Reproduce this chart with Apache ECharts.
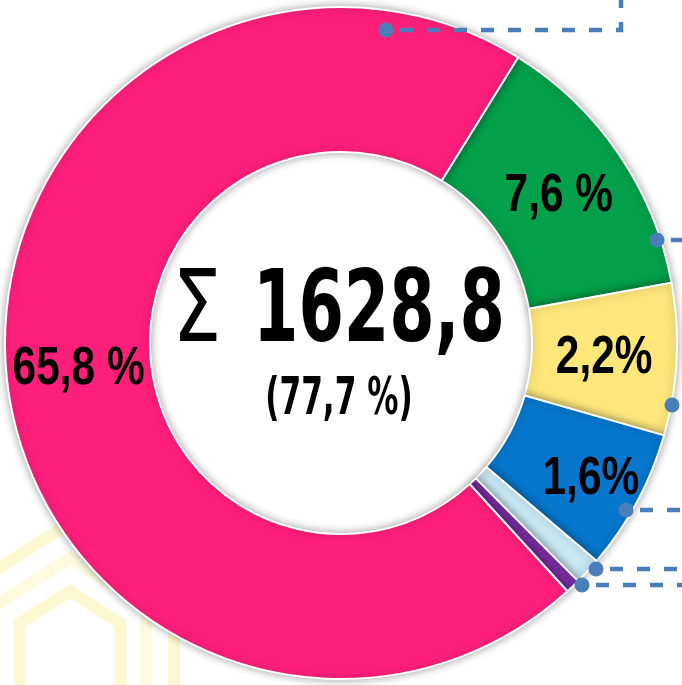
<!DOCTYPE html>
<html>
<head>
<meta charset="utf-8">
<script src="https://cdn.jsdelivr.net/npm/echarts@6/dist/echarts.min.js"></script>
<style>
  html, body { margin: 0; padding: 0; background: #fff; }
  #chart { width: 682px; height: 685px; }
</style>
</head>
<body>
<div id="chart"></div>
<script>
// slices, clockwise from the green one
const sliceNames = ['green', 'yellow', 'blue', 'lightblue', 'purple', 'pink']
// share of the ring each slice takes (percent of 360 deg)
const sliceShares = [13.3, 7.3, 6.8, 1.3, 0.7, 70.6]
const sliceLabels = ['7,6 %', '2,2%', '1,6%', '', '', '65,8 %']
const sliceColors = ['#02a04b', '#fde77b', '#0677cd', '#c8e8f5', '#7b2fa5', '#fe1f7b']

const totalText = '1628,8'
const totalShare = '(77,7 %)'

const labelFont = '"Liberation Sans", Arial, sans-serif'
const heavyFont = '"DejaVu Sans", sans-serif'
const lineColor = '#4a7ebb'

const chart = echarts.init(document.getElementById('chart'))

chart.setOption({
  animation: false,
  backgroundColor: '#fff',
  series: [
    {
      type: 'pie',
      center: [341, 343],
      radius: [191, 336],
      startAngle: 58.2,
      clockwise: true,
      z: 5,
      itemStyle: {
        borderColor: '#fff',
        borderWidth: 2,
        shadowBlur: 8,
        shadowColor: 'rgba(0,0,0,0.35)'
      },
      label: { show: false },
      labelLine: { show: false },
      emphasis: { disabled: true },
      data: sliceNames.map((name, i) => ({
        name: name,
        value: sliceShares[i],
        itemStyle: { color: sliceColors[i] }
      }))
    }
  ]
})

// narrow bold labels, placed from the pie's own layout
const pieData = chart.getModel().getSeriesByIndex(0).getData()
const radialNudge = { 2: 20 }
const graphics = []

// faint watermark behind the ring
;[[120, '#fcf8d2'], [88, '#fdfae0'], [58, '#fcf8d2']].forEach(([r, c]) => {
  const pts = []
  for (let k = 0; k < 6; k++) {
    const a = Math.PI / 6 + k * Math.PI / 3
    pts.push([70 + r * Math.cos(a), 655 + r * Math.sin(a) * 1.1])
  }
  graphics.push({
    type: 'polygon',
    shape: { points: pts },
    style: { fill: null, stroke: c, lineWidth: 12 },
    z: 0
  })
})

sliceLabels.forEach((txt, i) => {
  if (!txt) return
  const l = pieData.getItemLayout(i)
  const mid = (l.startAngle + l.endAngle) / 2
  const rr = (l.r0 + l.r) / 2 + (radialNudge[i] || 0)
  graphics.push({
    type: 'text',
    x: l.cx + rr * Math.cos(mid),
    y: l.cy + rr * Math.sin(mid) + 2,
    scaleX: 0.8,
    style: {
      text: txt,
      fontFamily: labelFont,
      fontWeight: 'bold',
      fontSize: 53,
      fill: '#000',
      align: 'center',
      verticalAlign: 'middle'
    },
    z: 20
  })
})

// leader lines that run off to labels outside the picture
const leaders = [
  [[386, 30], [621, 30], [621, 0]],
  [[657, 240], [682, 240]],
  [[672, 405], [682, 405]],
  [[626, 510], [682, 510]],
  [[596, 569], [682, 569]],
  [[582, 585], [682, 585]]
]
leaders.forEach((pts) => {
  graphics.push({
    type: 'polyline',
    shape: { points: pts },
    style: { stroke: lineColor, lineWidth: 4.5, lineDash: [13, 14], lineDashOffset: -14, fill: null },
    z: 30
  })
  graphics.push({
    type: 'circle',
    shape: { cx: pts[0][0], cy: pts[0][1], r: 7.5 },
    style: { fill: lineColor },
    z: 31
  })
})

// centre total
graphics.push({
  type: 'text',
  x: 197,
  y: 315,
  scaleX: 0.78,
  style: {
    text: 'Σ',
    fontFamily: heavyFont,
    fontSize: 99,
    fill: '#000',
    align: 'center',
    verticalAlign: 'middle'
  },
  z: 20
})
graphics.push({
  type: 'text',
  x: 379,
  y: 315,
  scaleX: 0.66,
  style: {
    text: totalText,
    fontFamily: heavyFont,
    fontWeight: 'bold',
    fontSize: 99,
    fill: '#000',
    align: 'center',
    verticalAlign: 'middle'
  },
  z: 20
})
graphics.push({
  type: 'text',
  x: 339,
  y: 400,
  scaleX: 0.6,
  style: {
    text: totalShare,
    fontFamily: heavyFont,
    fontWeight: 'bold',
    fontSize: 52,
    fill: '#000',
    align: 'center',
    verticalAlign: 'middle'
  },
  z: 20
})

chart.setOption({ graphic: graphics })
</script>
</body>
</html>
